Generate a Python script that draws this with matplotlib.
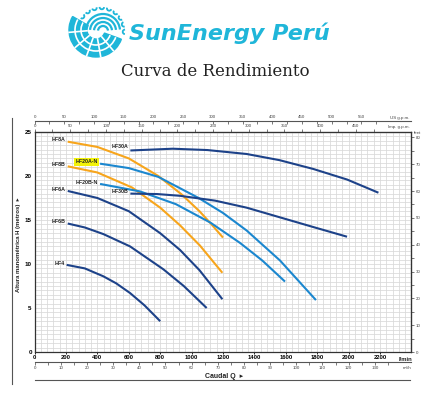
import numpy as np
import matplotlib
matplotlib.use('Agg')
import matplotlib.pyplot as plt
from matplotlib.patches import Arc, Wedge
from matplotlib.lines import Line2D

plt.rcParams['font.family'] = ['Liberation Sans', 'DejaVu Sans']

# caudal Q (l/min) y altura H (m)
hf8a_q = [211, 400, 600, 788, 937, 1050, 1117, 1200]
hf8a_h = [23.9, 23.3, 22.0, 20.0, 17.9, 16.0, 14.7, 13.0]
hf8b_q = [211, 400, 620, 800, 926, 1053, 1196]
hf8b_h = [21.1, 20.4, 18.7, 16.4, 14.4, 12.1, 9.0]
hf20an_q = [417, 600, 788, 1045, 1200, 1351, 1563, 1792]
hf20an_h = [21.4, 20.9, 19.9, 17.5, 15.8, 13.8, 10.4, 5.9]
hf20bn_q = [417, 671, 900, 1120, 1308, 1450, 1595]
hf20bn_h = [19.1, 18.25, 16.8, 14.7, 12.4, 10.4, 8.0]
hf30a_q = [610, 880, 1100, 1351, 1560, 1775, 1990, 2190]
hf30a_h = [22.9, 23.1, 22.95, 22.5, 21.8, 20.8, 19.6, 18.1]
hf30b_q = [610, 780, 926, 1150, 1351, 1563, 1775, 1990]
hf30b_h = [18.0, 17.95, 17.75, 17.2, 16.4, 15.3, 14.2, 13.1]
hf6a_q = [211, 400, 600, 800, 926, 1050, 1196]
hf6a_h = [18.3, 17.5, 16.0, 13.5, 11.6, 9.3, 6.0]
hf6b_q = [211, 320, 438, 608, 820, 950, 1096]
hf6b_h = [14.6, 14.15, 13.4, 12.0, 9.4, 7.5, 5.0]
hf4_q = [204, 320, 438, 520, 608, 700, 800]
hf4_h = [9.9, 9.5, 8.6, 7.8, 6.7, 5.3, 3.5]

orange = '#f7a51c'
light = '#1b87cf'
dark = '#1d4289'

curves = [
    ('HF8A', hf8a_q, hf8a_h, orange),
    ('HF8B', hf8b_q, hf8b_h, orange),
    ('HF20A-N', hf20an_q, hf20an_h, light),
    ('HF20B-N', hf20bn_q, hf20bn_h, light),
    ('HF30A', hf30a_q, hf30a_h, dark),
    ('HF30B', hf30b_q, hf30b_h, dark),
    ('HF6A', hf6a_q, hf6a_h, dark),
    ('HF6B', hf6b_q, hf6b_h, dark),
    ('HF4', hf4_q, hf4_h, dark),
]

fig = plt.figure(figsize=(4.3, 3.95), dpi=100)

# logo
lax = fig.add_axes([0, 0, 1, 1])
lax.set_xlim(0, 430)
lax.set_ylim(395, 0)
lax.axis('off')
cyan = '#1fb6d9'
cx, cy = 96, 30
lax.add_patch(Wedge((cx, cy), 27, 20, 210, width=18, color=cyan))
for r in (15, 21):
    lax.add_patch(Arc((cx, cy), 2 * r, 2 * r, theta1=20, theta2=210, color='white', lw=1.2))
for a in (50, 80, 110, 140, 175):
    t = np.radians(a)
    lax.plot([cx + 9 * np.cos(t), cx + 27 * np.cos(t)], [cy + 9 * np.sin(t), cy + 27 * np.sin(t)],
             color='white', lw=1.2)
for r in (5, 9, 13, 17):
    lax.add_patch(Arc((103, 31), 2 * r, 2 * r, theta1=185, theta2=355, color=cyan, lw=1.6))
for a in np.arange(200, 365, 18):
    t = np.radians(a)
    px, py = 101 + 24 * np.cos(t), 31 + 24 * np.sin(t)
    lax.add_patch(Arc((px, py), 4.5, 4.5, angle=a + 90, theta1=0, theta2=180, color=cyan, lw=1.3))
lax.text(129, 33, 'SunEnergy Perú', fontsize=16, fontweight='bold', style='italic',
         color=cyan, ha='left', va='center', family='DejaVu Sans')
lax.text(215, 71, 'Curva de Rendimiento', fontsize=12, color='#222222',
         ha='center', va='center', family='DejaVu Serif')

# grafico
ax = fig.add_axes([34.6 / 430, 43 / 395, 376.8 / 430, 220 / 395])
ax.set_xlim(0, 2400)
ax.set_ylim(0, 25)
ax.set_xticks(np.arange(0, 2201, 200))
ax.set_xticks(np.arange(0, 2401, 40), minor=True)
ax.set_yticks(np.arange(0, 26, 5))
ax.set_yticks(np.arange(0, 25.1, 0.5), minor=True)
ax.grid(which='both', color='#d8d8d8', lw=0.55)
ax.set_axisbelow(True)
ax.tick_params(which='minor', length=0)
ax.tick_params(axis='x', length=1.5, width=0.6, pad=1, labelsize=4.2)
ax.tick_params(axis='y', length=0, pad=2, labelsize=4.5)
for t in ax.get_xticklabels() + ax.get_yticklabels():
    t.set_fontweight('bold')
for s in ax.spines.values():
    s.set_color('#333333')
    s.set_linewidth(0.9)

for name, q, h, c in curves:
    ax.plot(q, h, color=c, lw=1.5, solid_capstyle='butt', solid_joinstyle='round')
    dy = 0.2 if name not in ('HF30A',) else 0.45
    kw = {}
    if name == 'HF20A-N':
        kw['bbox'] = dict(boxstyle='square,pad=0.25', fc='#f2f20a', ec='none')
    ax.text(q[0] - 15, h[0] + dy, name, fontsize=3.8, fontweight='bold', color='#222222',
            ha='right', va='center', **kw)

ax.text(2365, -0.6, 'l/min', fontsize=4.2, fontweight='bold', ha='center', va='top', color='#222222')

sec_kw = dict(labelsize=3.2, colors='#444444', width=0.5)
us = ax.secondary_xaxis(1.052, functions=(lambda q: q / 3.785, lambda g: g * 3.785))
us.set_xticks(np.arange(0, 551, 50))
us.set_xticks(np.arange(0, 576, 25), minor=True)
us.tick_params(which='both', direction='in', length=2.5, pad=1, **sec_kw)
us.spines['top'].set_color('#555555')
us.spines['bottom'].set_color('#555555')

imp = ax.secondary_xaxis('top', functions=(lambda q: q / 4.546, lambda g: g * 4.546))
imp.set_xticks(np.arange(0, 451, 50))
imp.set_xticks(np.arange(0, 476, 25), minor=True)
imp.tick_params(which='both', direction='out', length=2, pad=0.8, **sec_kw)

m3 = ax.secondary_xaxis(-0.045, functions=(lambda q: q * 0.06, lambda m: m / 0.06))
m3.set_xticks(np.arange(0, 131, 10))
m3.set_xticks(np.arange(0, 136, 5), minor=True)
m3.tick_params(which='both', direction='out', length=2, pad=1, **sec_kw)
m3.spines['top'].set_color('#555555')
m3.spines['bottom'].set_color('#555555')

ft = ax.secondary_yaxis('right', functions=(lambda m: m / 0.3048, lambda f: f * 0.3048))
ft.set_yticks(np.arange(0, 81, 10))
ft.set_yticks(np.arange(0, 81, 5), minor=True)
ft.tick_params(which='both', direction='out', length=2, pad=1.2, **sec_kw)

fig.text(400 / 430, 1 - 117.5 / 395, 'US g.p.m.', fontsize=3.2, color='#444444', ha='center', va='center')
fig.text(399 / 430, 1 - 127 / 395, 'Imp. g.p.m.', fontsize=3.2, color='#444444', ha='center', va='center')
fig.text(407 / 430, 1 - 368 / 395, 'm³/h', fontsize=3.2, color='#444444', ha='center', va='center')
fig.text(418 / 430, 1 - 133 / 395, 'feet', fontsize=3.2, color='#444444', ha='center', va='center')

fig.text(19 / 430, 1 - 245 / 395, 'Altura manométrica H (metros)  ▸', rotation=90, fontsize=4.3,
         fontweight='bold', ha='center', va='center', color='#222222')
fig.text(224 / 430, 1 - 376 / 395, 'Caudal Q  ▸', fontsize=5, fontweight='bold',
         ha='center', va='center', color='#222222')

fig.add_artist(Line2D([12 / 430, 12 / 430], [1 - 118 / 395, 1 - 384 / 395], color='#555555', lw=0.8))
fig.add_artist(Line2D([35 / 430, 410 / 430], [1 - 380 / 395, 1 - 380 / 395], color='#555555', lw=0.8))

fig.savefig('out.png', dpi=100)
